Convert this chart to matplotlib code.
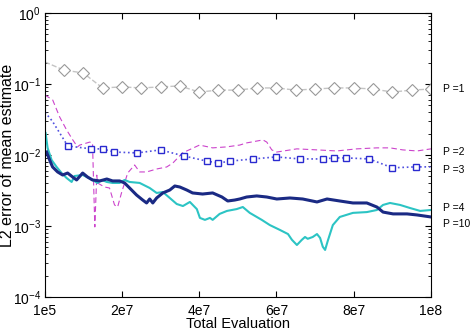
import numpy as np
import matplotlib
matplotlib.use('Agg')
import matplotlib.pyplot as plt

plt.rcParams['font.family'] = ['Liberation Sans', 'DejaVu Sans']

# P = 1 (grey diamonds)
p1_x = [0.1e6, 5e6, 10e6, 15e6, 20e6, 25e6, 30e6, 35e6, 40e6, 45e6, 50e6,
        55e6, 60e6, 65e6, 70e6, 75e6, 80e6, 85e6, 90e6, 95e6, 100e6]
p1_y = [0.204, 0.157, 0.143, 0.088, 0.091, 0.088, 0.091, 0.094, 0.077, 0.082, 0.082,
        0.088, 0.088, 0.082, 0.085, 0.088, 0.088, 0.085, 0.077, 0.082, 0.085]

# P = 2 (magenta dashed)
p2_x = [0.1e6, 2.1e6, 3.9e6, 5.7e6, 7.3e6, 8.5e6, 9.1e6, 11.7e6, 12.4e6, 13.0e6,
        13.5e6, 13.7e6, 15.5e6, 16.8e6, 18.1e6, 18.9e6, 19.9e6, 21.5e6, 23.3e6, 24.6e6,
        26.4e6, 29.0e6, 31.6e6, 33.2e6, 35.7e6, 40.1e6, 43.5e6, 47.1e6, 50.5e6, 52.3e6,
        56.5e6, 57.5e6, 58.8e6, 60.1e6, 65.3e6, 70.5e6, 75.6e6, 80.8e6, 86.0e6, 89.4e6,
        92.7e6, 96.4e6, 100e6]
p2_y = [0.070, 0.0595, 0.0343, 0.0225, 0.0163, 0.0130, 0.0138, 0.0152, 0.0147, 0.00097,
        0.0052, 0.00404, 0.00354, 0.00343, 0.00198, 0.00185, 0.00292, 0.00557, 0.00723, 0.00577,
        0.00577, 0.00635, 0.00678, 0.00771, 0.0107, 0.0138, 0.0126, 0.0130, 0.0138, 0.0148,
        0.0163, 0.0152, 0.0118, 0.0110, 0.0122, 0.0118, 0.0114, 0.0122, 0.0126, 0.0126,
        0.0118, 0.0114, 0.0122]

# P = 3 (blue squares, dotted)
p3_x = [0.1e6, 2e6, 6e6, 12e6, 15e6, 18e6, 24e6, 30e6, 36e6, 42e6, 45e6, 48e6,
        54e6, 60e6, 66e6, 72e6, 75e6, 78e6, 84e6, 90e6, 96e6, 100e6]
p3_y = [0.040, 0.030, 0.0134, 0.0122, 0.0122, 0.0110, 0.0107, 0.0118, 0.0097, 0.0082,
        0.0077, 0.0082, 0.0088, 0.0094, 0.0088, 0.0088, 0.0091, 0.0091, 0.0088, 0.0066,
        0.0068, 0.0068]

# P = 4 (cyan)
p4_x = [0.26e6, 0.78e6, 1.81e6, 3.11e6, 4.40e6, 5.70e6, 7.00e6, 7.77e6, 9.85e6, 10.9e6,
        12.4e6, 13.7e6, 14.8e6, 16.1e6, 17.6e6, 19.4e6, 20.7e6, 22.0e6, 24.6e6, 27.2e6,
        29.0e6, 30.6e6, 32.4e6, 34.2e6, 35.8e6, 37.6e6, 39.4e6, 40.2e6, 41.5e6, 42.8e6,
        43.5e6, 45.3e6, 47.2e6, 49.7e6, 51.3e6, 53.1e6, 56.2e6, 58.3e6, 60.9e6, 63.0e6,
        64.0e6, 65.3e6, 66.6e6, 67.4e6, 68.1e6, 69.4e6, 70.5e6, 71.3e6, 72.0e6, 72.6e6,
        73.3e6, 74.6e6, 76.4e6, 79.8e6, 83.4e6, 86.0e6, 87.6e6, 89.4e6, 92.0e6, 94.6e6,
        97.2e6, 100e6]
p4_y = [0.0204, 0.01256, 0.00851, 0.00678, 0.00557, 0.00474, 0.00417, 0.00506, 0.00523, 0.00490,
        0.00445, 0.00404, 0.00445, 0.00417, 0.00404, 0.00404, 0.00445, 0.00417, 0.00404, 0.00343,
        0.00292, 0.00301, 0.00248, 0.00204, 0.00191, 0.00218, 0.00173, 0.00130, 0.00122, 0.00130,
        0.00122, 0.00148, 0.00163, 0.00173, 0.00185, 0.00153, 0.00122, 0.00103, 0.00088, 0.00077,
        0.00064, 0.00054, 0.00064, 0.00070, 0.00066, 0.00070, 0.00077, 0.00068, 0.00051, 0.00046,
        0.00062, 0.00103, 0.00134, 0.00153, 0.00157, 0.00168, 0.00198, 0.00211, 0.00198, 0.00179,
        0.00163, 0.00168]

# P = 10 (navy, thick)
p10_x = [0.52e6, 1.3e6, 2.07e6, 3.37e6, 4.66e6, 5.96e6, 7.25e6, 8.29e6, 9.85e6, 11.1e6,
         12.4e6, 14.3e6, 16.1e6, 17.6e6, 19.4e6, 20.7e6, 22.0e6, 23.8e6, 25.4e6, 26.4e6,
         27.2e6, 28.0e6, 29.0e6, 30.6e6, 32.4e6, 33.7e6, 35.0e6, 36.8e6, 38.3e6, 40.9e6,
         43.5e6, 45.9e6, 47.4e6, 49.2e6, 50.5e6, 52.3e6, 54.9e6, 57.5e6, 60.1e6, 63.5e6,
         66.8e6, 70.5e6, 73.1e6, 76.4e6, 79.8e6, 83.4e6, 86.0e6, 87.6e6, 90.2e6, 93.8e6,
         96.4e6, 100e6]
p10_y = [0.01102, 0.00851, 0.00678, 0.00577, 0.00523, 0.00557, 0.00490, 0.00445, 0.00557, 0.00490,
         0.00445, 0.00431, 0.00459, 0.00431, 0.00431, 0.00404, 0.00343, 0.00273, 0.00232, 0.00211,
         0.00240, 0.00211, 0.00248, 0.00292, 0.00321, 0.00366, 0.00354, 0.00321, 0.00292, 0.00282,
         0.00292, 0.00256, 0.00225, 0.00232, 0.00240, 0.00256, 0.00265, 0.00256, 0.00240, 0.00248,
         0.00240, 0.00218, 0.00240, 0.00225, 0.00211, 0.00211, 0.00185, 0.00157, 0.00148, 0.00148,
         0.00143, 0.00134]

labels = ['P =1', 'P =2', 'P =3', 'P =4', 'P =10']
label_y = [0.085, 0.0110, 0.0062, 0.00179, 0.00107]

xticks = [1e5, 2e7, 4e7, 6e7, 8e7, 1e8]
xticklabels = ['1e5', '2e7', '4e7', '6e7', '8e7', '1e8']

fig = plt.figure(figsize=(4.75, 3.29), dpi=100)
ax = fig.add_axes([0.0947, 0.0973, 0.8126, 0.8632])

ax.plot(p1_x, p1_y, '--', color='#c4c4c4', lw=1.0, marker='D', ms=6,
        mfc='white', mec='#999999', mew=0.8, markevery=list(range(1, len(p1_x))))
ax.plot(p2_x, p2_y, '--', color='#cc44cc', lw=0.8, dashes=(5, 3))
ax.plot(p3_x, p3_y, ':', color='#5050e0', lw=1.2, marker='s', ms=5,
        mfc='white', mec='#2a2ad0', mew=1.0, markevery=list(range(2, len(p3_x) - 1)))
ax.plot(p4_x, p4_y, '-', color='#2cc4c4', lw=1.5)
ax.plot(p10_x, p10_y, '-', color='#1a2a84', lw=2.2)

ax.set_yscale('log')
ax.set_ylim(1e-4, 1)
ax.set_xlim(1e5, 1e8)
ax.set_xticks(xticks)
ax.set_xticklabels(xticklabels)
ax.tick_params(which='both', direction='in', top=True, right=True, labelsize=10)
ax.tick_params(which='major', length=4)
ax.tick_params(which='minor', length=2)
ax.tick_params(axis='x', pad=5)
ax.tick_params(axis='y', pad=3)

for lab, y in zip(labels, label_y):
    ax.text(1.03e8, y, lab, fontsize=7.5, va='center', ha='left', clip_on=False)

ax.set_xlabel('Total Evaluation', fontsize=10.5, labelpad=-1)
ax.set_ylabel('L2 error of mean estimate', fontsize=11.5, labelpad=0)
ax.yaxis.set_label_coords(-0.078, 0.5)

fig.savefig('out.png', dpi=100)
